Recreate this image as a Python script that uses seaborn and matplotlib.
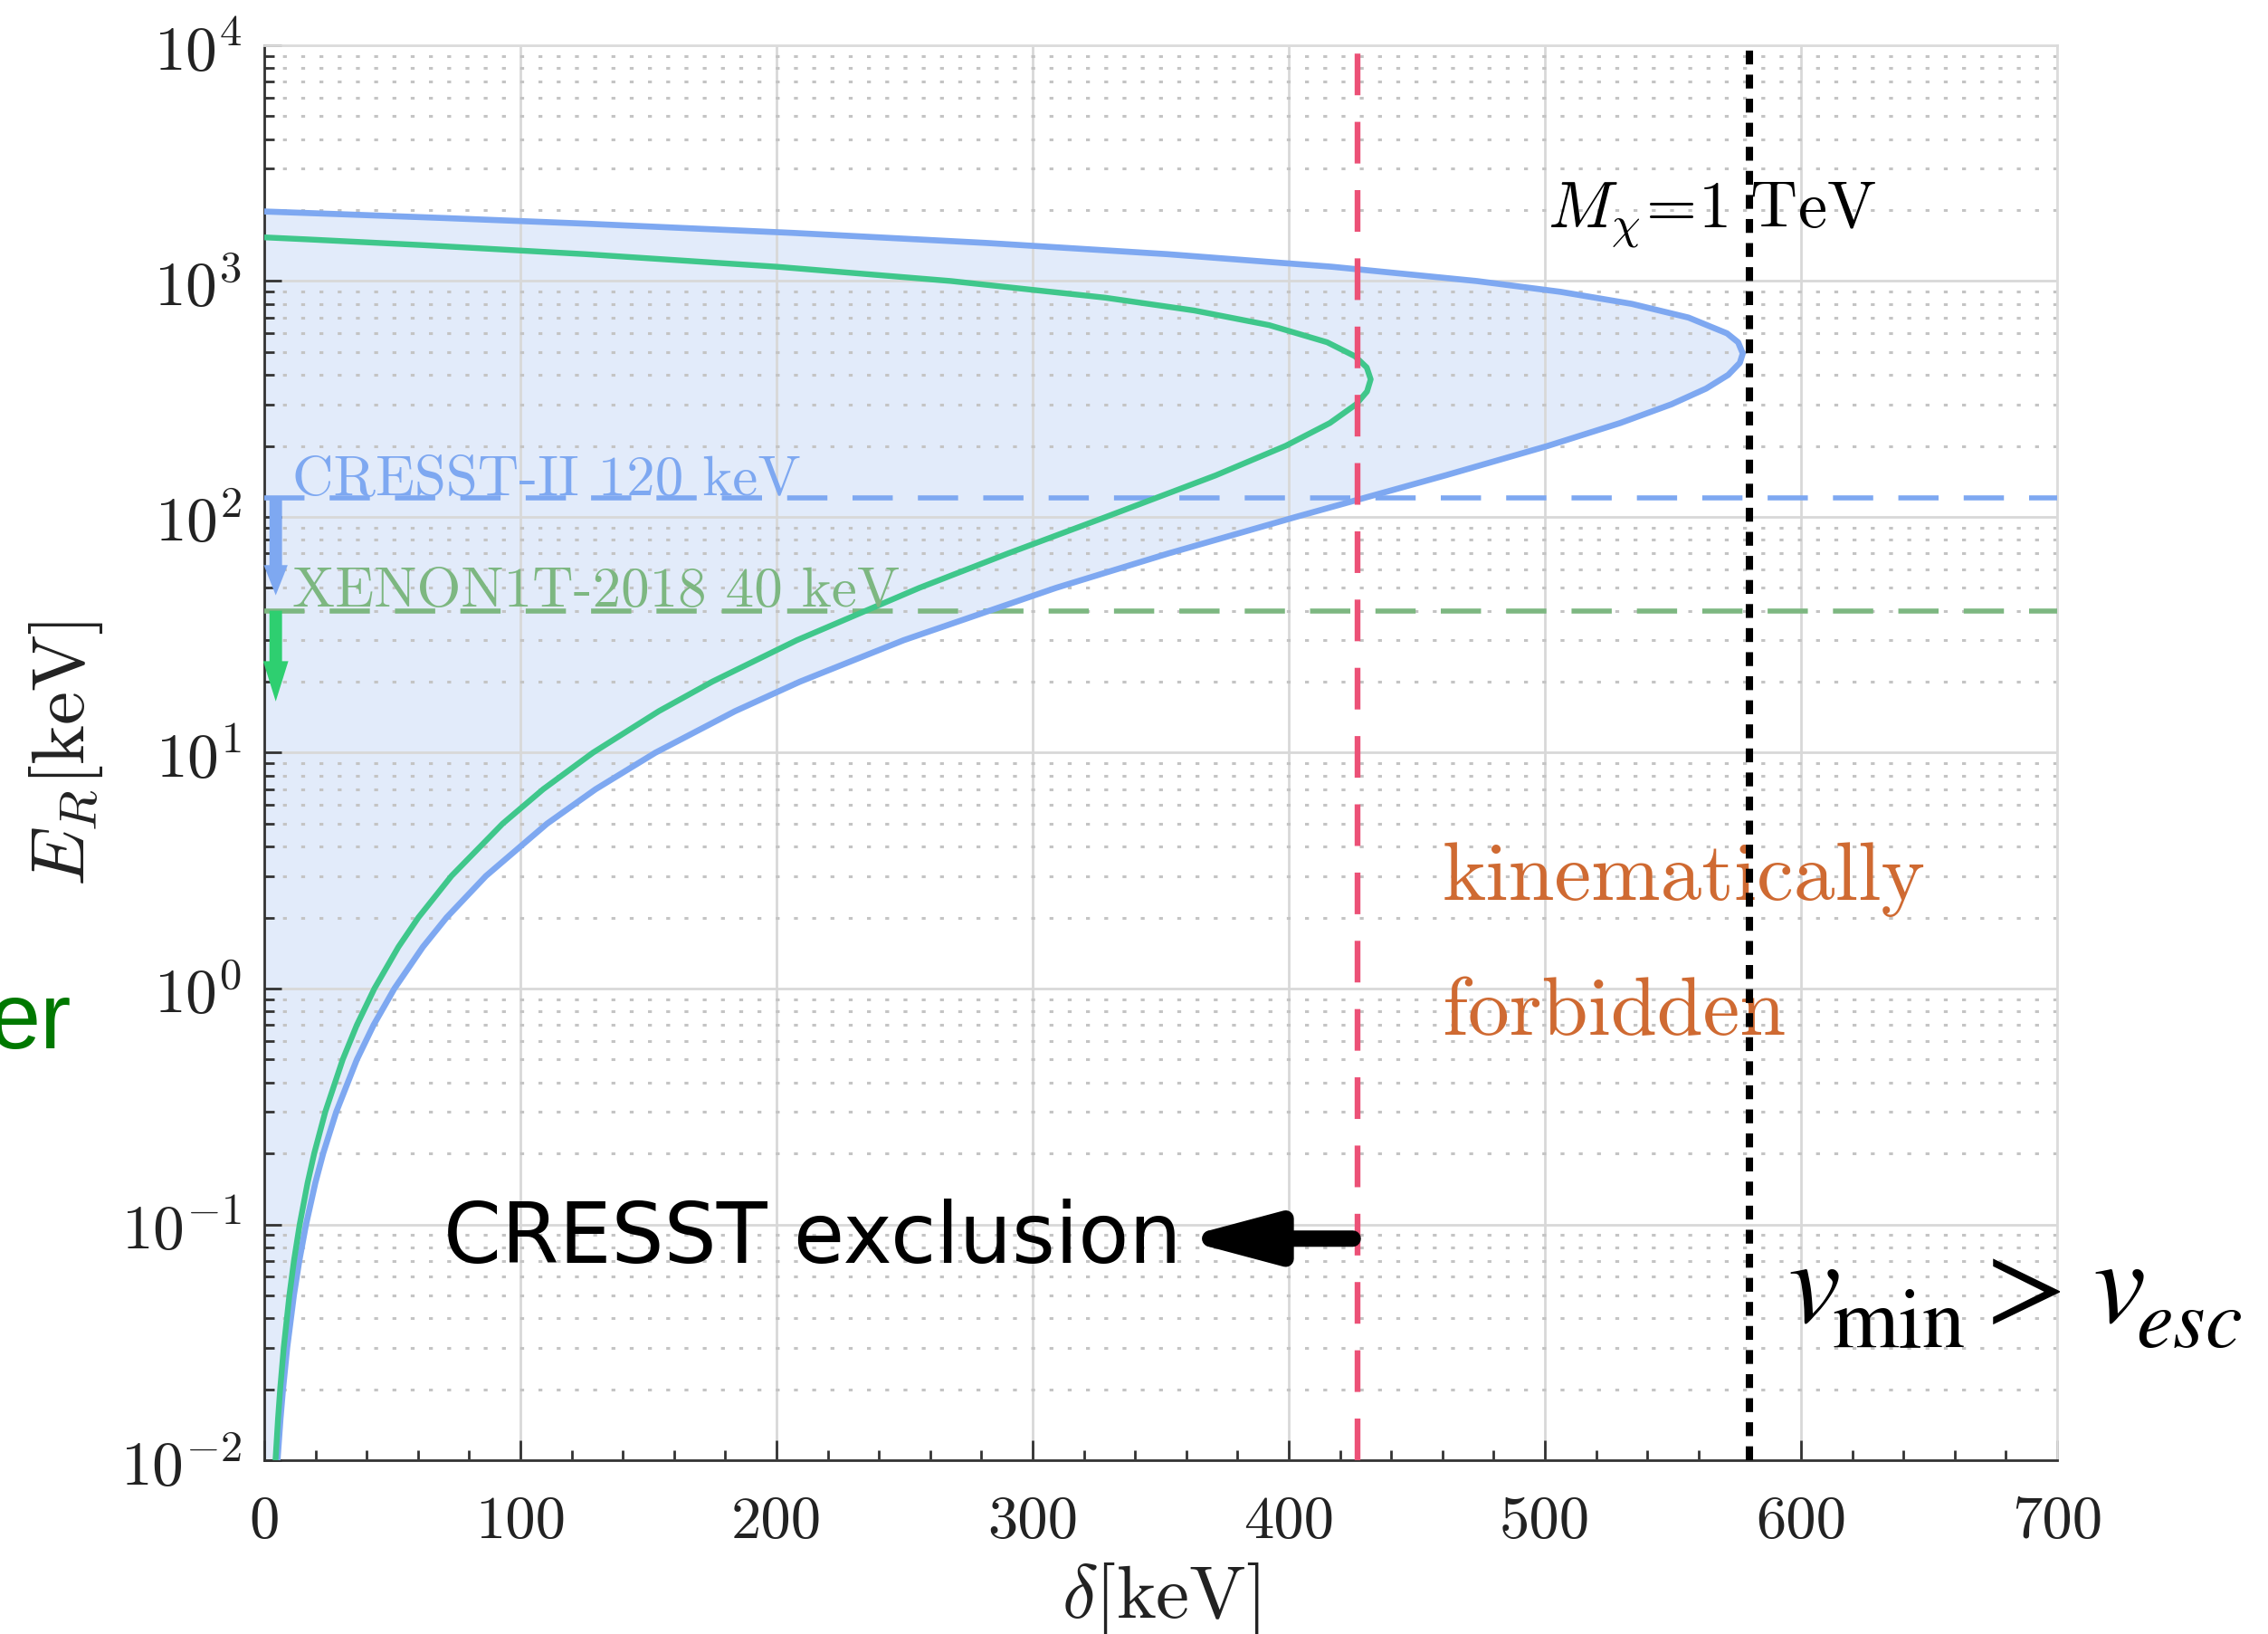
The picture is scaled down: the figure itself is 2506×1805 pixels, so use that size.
import numpy as np
import pandas as pd
import matplotlib
matplotlib.use("Agg")
import matplotlib.pyplot as plt
import seaborn as sns
from matplotlib.ticker import MultipleLocator, LogLocator, FixedLocator, NullFormatter

# ---------------- data ----------------
# Blue curve (CRESST target), recoil energy E_R [keV] vs delta [keV]
blue_E = [0.01, 0.015, 0.02, 0.03, 0.05, 0.07, 0.1, 0.15, 0.2, 0.3, 0.5, 0.7,
          1, 1.5, 2, 3, 5, 7, 10, 15, 20, 30, 50, 70, 100, 150, 200, 250, 300,
          350, 400, 450, 493, 550, 600, 700, 800, 900, 1000, 1150, 1300, 1450,
          1600, 1750, 1850, 1920, 1972]
blue_delta = [5.19, 6.35, 7.33, 8.97, 11.57, 13.68, 16.33, 19.96, 23.02, 28.13,
              36.18, 42.69, 50.83, 61.93, 71.20, 86.55, 110.42, 129.38, 152.73,
              183.83, 209.13, 249.69, 309.15, 353.09, 402.9, 461.22, 501.19,
              529.44, 549.37, 562.98, 571.6, 576.14, 577.29, 575.46, 571.13,
              556.09, 533.98, 506.1, 473.38, 416.75, 352.59, 282.15, 206.4,
              126.07, 70.25, 30.21, 0.0]
# Green curve (XENON target)
green_E = [0.01, 0.015, 0.02, 0.03, 0.05, 0.07, 0.1, 0.15, 0.2, 0.3, 0.5, 0.7,
           1, 1.5, 2, 3, 5, 7, 10, 15, 20, 30, 50, 70, 100, 150, 200, 250, 300,
           340, 383, 430, 480, 550, 650, 750, 850, 1000, 1150, 1300, 1420, 1500,
           1532]
green_delta = [4.40, 5.39, 6.22, 7.61, 9.82, 11.60, 13.85, 16.93, 19.52, 23.84,
               30.65, 36.15, 43.02, 52.38, 60.18, 73.09, 93.08, 108.91, 128.34,
               154.07, 174.89, 207.98, 255.79, 290.43, 328.7, 371.52, 398.77,
               416.07, 426.30, 430.57, 432.01, 430.47, 425.84, 415.01, 392.41,
               363.10, 328.38, 268.15, 200.0, 125.45, 61.94, 17.92, 0.0]

cresst_threshold = 120.0    # keV
xenon_threshold = 40.0      # keV
cresst_delta_limit = 427.0  # keV (red dashed)
vesc_delta_limit = 580.0    # keV (black dotted)

x_ticks = [0, 100, 200, 300, 400, 500, 600, 700]
y_exponents = [-2, -1, 0, 1, 2, 3, 4]

# ---------------- style ----------------
sns.set_theme(style="white")
plt.rcParams["mathtext.fontset"] = "cm"
plt.rcParams["axes.unicode_minus"] = False
plt.rcParams["font.family"] = ["DejaVu Sans"]

BLUE = "#7EA8F1"
GREEN = "#3FC78B"
FILL = "#E2EBFA"
RED = "#EC5177"
XEN_GREEN = "#7DB781"
ARROW_GREEN = "#2ECF70"
ORANGE = "#CF6A32"

W, H = 2506, 1806
fig = plt.figure(figsize=(W / 200, H / 200), dpi=200)
ax = fig.add_axes([0.1165, 0.1063, 0.7905, 0.8655])

ax.set_yscale("log")
ax.set_xlim(0, 700)
ax.set_ylim(1e-2, 1e4)

# grid
ax.grid(True, which="major", axis="both", color="#D8D8D8", lw=1.0, zorder=0.5)
ax.grid(True, which="minor", axis="y", color="#C4C4C4", lw=1.1, ls=(0, (1.4, 5.2)), zorder=0.5)
ax.set_axisbelow(True)

# fill region (below the grid)
ax.fill_betweenx(blue_E, 0, blue_delta, color=FILL, lw=0, zorder=0.1)

df_blue = pd.DataFrame({"delta": blue_delta, "E": blue_E})
df_green = pd.DataFrame({"delta": green_delta, "E": green_E})
sns.lineplot(data=df_blue, x="delta", y="E", sort=False, estimator=None,
             color=BLUE, lw=2.4, ax=ax, zorder=4)
sns.lineplot(data=df_green, x="delta", y="E", sort=False, estimator=None,
             color=GREEN, lw=2.3, ax=ax, zorder=4)

# threshold lines
ax.axhline(cresst_threshold, color=BLUE, lw=2.0, ls=(0, (8, 5)), zorder=3)
ax.axhline(xenon_threshold, color=XEN_GREEN, lw=2.0, ls=(0, (8, 5)), zorder=3)
ax.axvline(cresst_delta_limit, color=RED, lw=2.3, ls=(0, (7.2, 4.6)), zorder=5)
ax.axvline(vesc_delta_limit, color="black", lw=2.9, ls=(0, (1.9, 1.4)), zorder=5)

# vertical arrows from thresholds
ax.annotate("", xy=(4.5, 46.5), xytext=(4.5, cresst_threshold),
            arrowprops=dict(arrowstyle="simple,head_length=12,head_width=9.5,tail_width=5",
                            mutation_scale=1, color=BLUE, lw=0, shrinkA=0, shrinkB=0),
            zorder=6)
ax.annotate("", xy=(4.5, 16.5), xytext=(4.5, xenon_threshold),
            arrowprops=dict(arrowstyle="simple,head_length=16,head_width=10,tail_width=5",
                            mutation_scale=1, color=ARROW_GREEN, lw=0, shrinkA=0, shrinkB=0),
            zorder=6)

# labels on the threshold lines
ax.text(11, 126, "CRESST-II 120 keV", family="cmr10", fontsize=22.7, color=BLUE,
        ha="left", va="baseline", zorder=6)
ax.text(11, 42, "XENON1T-2018 40 keV", family="cmr10", fontsize=22.7, color=XEN_GREEN,
        ha="left", va="baseline", zorder=6)

ax.text(501, 1710, r"$M_{\chi}\!=\!1\ \mathrm{TeV}$", fontsize=26, color="black",
        ha="left", va="baseline", zorder=4)
ax.text(460, 2.4, "kinematically", family="cmr10", fontsize=33, color=ORANGE,
        ha="left", va="baseline", zorder=4)
ax.text(460, 0.645, "forbidden", family="cmr10", fontsize=33, color=ORANGE,
        ha="left", va="baseline", zorder=4)

ax.text(70, 0.087, "CRESST exclusion", fontsize=33, color="black",
        ha="left", va="center", zorder=6)
ax.annotate("", xy=(357, 0.087), xytext=(425, 0.087),
            arrowprops=dict(arrowstyle="-|>,head_length=0.75,head_width=0.2",
                            mutation_scale=40, color="black", lw=6.5,
                            shrinkA=0, shrinkB=0),
            zorder=6)

# v_min > v_esc, composed piece by piece (pixel positions of the reference)
def ftext(px, py, s, size):
    fig.text(px / W, 1 - py / H, s, fontsize=size, color="black",
             math_fontfamily="stix", ha="left", va="baseline", zorder=6)

ftext(1975, 1460, r"$v$", 47)
ftext(2024, 1488, r"$\mathrm{min}$", 34)
ftext(2176, 1460, r"$>$", 47)
ftext(2312, 1460, r"$v$", 47)
ftext(2360, 1488, r"$esc$", 33)

fig.text(-0.005, 0.3588, "er", family="Liberation Sans", fontsize=37, color="#007800",
         ha="left", va="baseline")

# ticks
ax.xaxis.set_major_locator(FixedLocator(x_ticks))
ax.xaxis.set_minor_locator(MultipleLocator(20))
ax.set_xticklabels([str(v) for v in x_ticks])
ax.yaxis.set_major_locator(FixedLocator([10.0 ** e for e in y_exponents]))
ax.yaxis.set_minor_locator(LogLocator(base=10, subs=np.arange(2, 10), numticks=20))
ax.set_yticklabels([r"$10^{%d}$" % e for e in y_exponents])
ax.yaxis.set_minor_formatter(NullFormatter())

ax.tick_params(axis="x", which="major", direction="in", length=8, width=1.0,
               color="#333333", bottom=True, top=False, labelsize=24, pad=14)
ax.tick_params(axis="x", which="minor", direction="in", length=4, width=1.0,
               color="#333333", bottom=True, top=False)
ax.tick_params(axis="y", which="major", direction="in", length=7, width=1.0,
               color="#333333", left=True, right=False, labelsize=25, pad=9)
ax.tick_params(axis="y", which="minor", direction="in", length=4, width=1.0,
               color="#333333", left=True, right=False)
for lab in ax.get_xticklabels():
    lab.set_family("cmr10")
    lab.set_color("#222222")
for lab in ax.get_yticklabels():
    lab.set_color("#222222")

for side in ["left", "bottom"]:
    ax.spines[side].set_color("#333333")
    ax.spines[side].set_linewidth(1.0)
for side in ["top", "right"]:
    ax.spines[side].set_color("#DCDCDC")
    ax.spines[side].set_linewidth(1.0)

ax.set_xlabel(r"$\delta[\mathrm{keV}]$", fontsize=30, color="#222222", labelpad=4)
ax.set_ylabel(r"$E_R[\mathrm{keV}]$", fontsize=30, color="#222222", labelpad=6)

fig.savefig("out.png", dpi=200)
